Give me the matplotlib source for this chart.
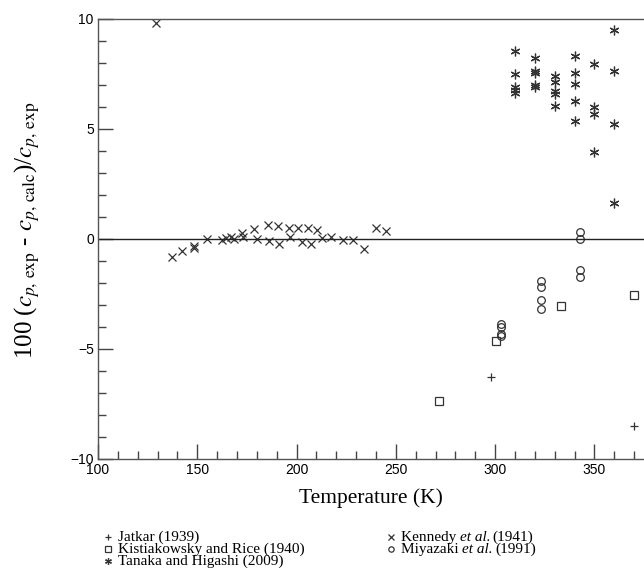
import matplotlib
matplotlib.use("Agg")
import matplotlib.pyplot as plt
from matplotlib.lines import Line2D
from matplotlib.ticker import MultipleLocator

# data: (temperature K, deviation %)
jatkar_T = [298.0, 370.0]
jatkar_d = [-6.26, -8.49]

kistia_T = [272.0, 300.4, 333.0, 370.2]
kistia_d = [-7.36, -4.65, -3.05, -2.56]

tanaka_T = [310, 310, 310, 310, 310,
            320, 320, 320, 320, 320,
            330, 330, 330, 330, 330,
            340, 340, 340, 340, 340,
            350, 350, 350, 350,
            360, 360, 360, 360]
tanaka_d = [8.55, 7.5, 6.9, 6.77, 6.65,
            8.24, 7.65, 7.53, 6.98, 6.9,
            7.42, 7.12, 6.71, 6.59, 6.06,
            8.32, 7.53, 7.03, 6.29, 5.36,
            7.97, 6.02, 5.67, 3.94,
            9.5, 7.65, 5.21, 1.65]

kennedy_T = [129.2, 137.1, 142.5, 148.3, 148.3, 155.0, 162.6, 164.3, 166.8,
             168.5, 172.7, 173.2, 178.7, 180.1, 185.8, 186.1, 190.8, 191.3,
             196.2, 196.7, 200.6, 202.5, 205.6, 207.2, 210.5, 212.6, 217.6,
             223.2, 228.6, 234.1, 240.1, 245.3]
kennedy_d = [9.82, -0.82, -0.55, -0.33, -0.42, 0.0, -0.06, 0.03, 0.11,
             0.0, 0.27, 0.11, 0.45, -0.01, 0.64, -0.11, 0.58, -0.21,
             0.52, 0.08, 0.52, -0.12, 0.5, -0.23, 0.41, 0.06, 0.08,
             -0.03, -0.03, -0.47, 0.52, 0.36]

miya_T = [303, 303, 303, 303, 323, 323, 323, 323, 343, 343, 343, 343]
miya_d = [-3.85, -3.98, -4.3, -4.4, -1.92, -2.17, -2.77, -3.17,
          0.32, -0.02, -1.41, -1.74]

# legend labels as (plain, italic, plain) pieces
labels = [("Jatkar (1939)", "", ""),
          ("Kistiakowsky and Rice (1940)", "", ""),
          ("Tanaka and Higashi (2009)", "", ""),
          ("Kennedy ", "et al.", "(1941)"),
          ("Miyazaki ", "et al.", "(1991)")]

plt.rcParams["mathtext.fontset"] = "stix"
plt.rcParams["axes.linewidth"] = 1.0

W, H = 644, 571
fig = plt.figure(figsize=(W / 100, H / 100), dpi=100)
ax = fig.add_axes([98 / W, 1 - 459 / H, 1 - 98 / W, 440 / H])

mc = "#333333"
styles = [
    dict(marker="+", ms=6, mew=0.9, color=mc),
    dict(marker="s", ms=5.5, mew=0.9, mfc="none", mec=mc),
    dict(marker=(6, 2, 0), ms=7, mew=0.9, color=mc),
    dict(marker="x", ms=6, mew=0.9, color=mc),
    dict(marker="o", ms=5.5, mew=0.9, mfc="none", mec=mc),
]
series = [(jatkar_T, jatkar_d), (kistia_T, kistia_d), (tanaka_T, tanaka_d),
          (kennedy_T, kennedy_d), (miya_T, miya_d)]
for (T, d), st in zip(series, styles):
    ax.plot(T, d, ls="none", **st)

ax.axhline(0, color="#222222", lw=1.0)

ax.set_xlim(100, 375)
ax.set_ylim(-10, 10)
ax.xaxis.set_major_locator(MultipleLocator(50))
ax.xaxis.set_minor_locator(MultipleLocator(10))
ax.yaxis.set_major_locator(MultipleLocator(5))
ax.yaxis.set_minor_locator(MultipleLocator(1))
ax.tick_params(which="both", direction="in", colors="#444444", labelcolor="black",
               labelsize=10, pad=3)
ax.tick_params(which="major", length=11, width=1.0)
ax.tick_params(which="minor", length=6, width=1.0)
ax.spines["right"].set_visible(False)
for s in ["left", "top", "bottom"]:
    ax.spines[s].set_color("#555555")
for t in ax.get_xticklabels() + ax.get_yticklabels():
    t.set_fontfamily("Liberation Sans")

ax.set_xlabel("Temperature (K)", family="Liberation Serif", fontsize=15.5, labelpad=8)
ax.set_ylabel(r"100 ($c_{p,\,\mathrm{exp}}$ - $c_{p,\,\mathrm{calc}}$)/$c_{p,\,\mathrm{exp}}$",
              family="Liberation Serif", fontsize=18, va="center")
ax.yaxis.set_label_coords((27 - 98) / (W - 98), 0.52)

# legend below the plot, two columns, built by hand to keep the tight rows
leg_x = [108, 108, 108, 391, 391]
leg_y = [537, 549, 561, 537, 549]
fig.canvas.draw()
renderer = fig.canvas.get_renderer()
for parts, st, lx, ly in zip(labels, styles, leg_x, leg_y):
    st_small = dict(st)
    st_small["ms"] = st["ms"] * 0.7
    fig.add_artist(Line2D([lx / W], [1 - ly / H], transform=fig.transFigure, ls="none", **st_small))
    x = lx + 10
    base = 1 - (ly + 4) / H
    for piece, style in zip(parts, ["normal", "italic", "normal"]):
        if not piece:
            continue
        t = fig.text(x / W, base, piece, family="Liberation Serif", fontsize=11,
                     style=style, va="baseline", ha="left")
        x = t.get_window_extent(renderer).x1 + (2 if style == "italic" else 0)

fig.savefig("out.png", dpi=100)
